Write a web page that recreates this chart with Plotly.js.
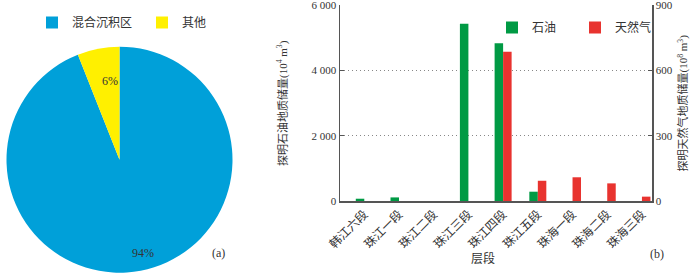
<!DOCTYPE html>
<html>
<head>
<meta charset="utf-8">
<script src="https://cdn.plot.ly/plotly-3.0.1.min.js"></script>
<style>html,body{margin:0;padding:0;background:#fff}#chart{width:700px;height:275px}</style>
</head>
<body>
<div id="chart"></div>
<script>
// Pie (a)
const pieLabels = ['混合沉积区', '其他'];
const pieValues = [94, 6];
const pieColors = ['#00a0d9', '#fff000'];

// Bars (b)
const categories = ['韩江六段', '珠江一段', '珠江二段', '珠江三段', '珠江四段', '珠江五段', '珠海一段', '珠海二段', '珠海三段'];
const oilValues = [70, 110, 0, 5430, 4830, 285, 0, 0, 0];      // 10^4 m3
const gasValues = [0, 0, 0, 0, 686, 93, 109, 81, 20];            // 10^8 m3
const leftTicks = [0, 2000, 4000, 6000];
const leftTickText = ['0', '2 000', '4 000', '6 000'];
const rightTicks = [0, 300, 600, 900];
const rightTickText = ['0', '300', '600', '900'];
const xTitle = '层段';
const yTitle = '探明石油地质储量(10<sup>4</sup> m<sup>3</sup>)';
const y2Title = '探明天然气地质储量(10<sup>8</sup> m<sup>3</sup>)';

const FONT = 'Liberation Serif, Noto Sans CJK SC, serif';
const TXT = '#333';

const traces = [
  {
    type: 'pie', labels: pieLabels, values: pieValues,
    marker: {colors: pieColors, line: {width: 0}},
    sort: false, direction: 'clockwise', rotation: 0,
    textinfo: 'none', hoverinfo: 'none',
    domain: {x: [6.5/700, 232.5/700], y: [2.3/275, 228.3/275]},
    legend: 'legend', showlegend: true
  },
  {
    type: 'bar', name: '石油', x: categories.map((c, i) => i), y: oilValues,
    xaxis: 'x', yaxis: 'y', width: 0.245, offset: -0.245,
    marker: {color: '#009a44'}, legend: 'legend2'
  },
  {
    type: 'bar', name: '天然气', x: categories.map((c, i) => i), y: gasValues,
    xaxis: 'x', yaxis: 'y2', width: 0.245, offset: 0,
    marker: {color: '#e8332f'}, legend: 'legend2'
  }
];

const ann = (x, y, text, extra) => Object.assign({xref: 'paper', yref: 'paper', x: x/700, y: 1 - y/275,
  text: text, showarrow: false, font: {family: FONT, size: 12, color: TXT}}, extra || {});

const layout = {
  width: 700, height: 275,
  margin: {l: 0, r: 0, t: 0, b: 0, autoexpand: false},
  paper_bgcolor: '#fff', plot_bgcolor: 'rgba(0,0,0,0)',
  font: {family: FONT, size: 11, color: TXT},
  barmode: 'group',
  xaxis: {
    domain: [340/700, 652/700], range: [-0.70, 8.29], automargin: false,
    tickmode: 'array', tickvals: categories.map((c, i) => i), ticktext: categories,
    tickangle: -45, ticks: '', showgrid: false, zeroline: false,
    showline: true, linecolor: '#555', linewidth: 1.5,
    tickfont: {family: FONT, size: 12, color: TXT}
  },
  yaxis: {
    domain: [1 - 201/275, 1 - 5/275], range: [0, 6005], automargin: false,
    tickmode: 'array', tickvals: leftTicks, ticktext: leftTickText,
    ticks: 'inside', ticklen: 4, tickcolor: '#555', ticklabeloverflow: 'allow',
    showline: true, linecolor: '#555', linewidth: 1.5,
    showgrid: true, gridcolor: '#888', griddash: '1px,3px', gridwidth: 1,
    zeroline: false,
    tickfont: {family: FONT, size: 11, color: TXT}
  },
  yaxis2: {
    overlaying: 'y', side: 'right', anchor: 'x', range: [0, 900.75], automargin: false,
    tickmode: 'array', tickvals: rightTicks, ticktext: rightTickText,
    ticks: 'inside', ticklen: 4, tickcolor: '#555', ticklabeloverflow: 'allow',
    showline: true, linecolor: '#555', linewidth: 1.5,
    showgrid: false, zeroline: false,
    tickfont: {family: FONT, size: 11, color: TXT}
  },
  legend: {
    orientation: 'h', x: 32/700, y: 1 - 8/275, xanchor: 'left', yanchor: 'top',
    font: {family: FONT, size: 12, color: TXT}, bgcolor: 'rgba(0,0,0,0)',
    itemwidth: 30, entrywidth: 65
  },
  legend2: {
    orientation: 'h', x: 492/700, y: 1 - 13/275, xanchor: 'left', yanchor: 'top',
    font: {family: FONT, size: 12, color: TXT}, bgcolor: 'rgba(0,0,0,0)',
    itemwidth: 30, entrywidth: 38
  },
  annotations: [
    ann(130, 262, pieValues[0] + '%'),
    ann(100, 72, pieValues[1] + '%'),
    ann(210, 262, '(a)'),
    ann(666, 263, '(b)'),
    ann(497, 268, xTitle),
    ann(283, 103, yTitle, {textangle: -90, font: {family: FONT, size: 11, color: TXT}}),
    ann(693, 103, y2Title, {textangle: -90, font: {family: FONT, size: 11, color: TXT}})
  ]
};

Plotly.newPlot('chart', traces, layout, {displayModeBar: false, staticPlot: true});
</script>
</body>
</html>
